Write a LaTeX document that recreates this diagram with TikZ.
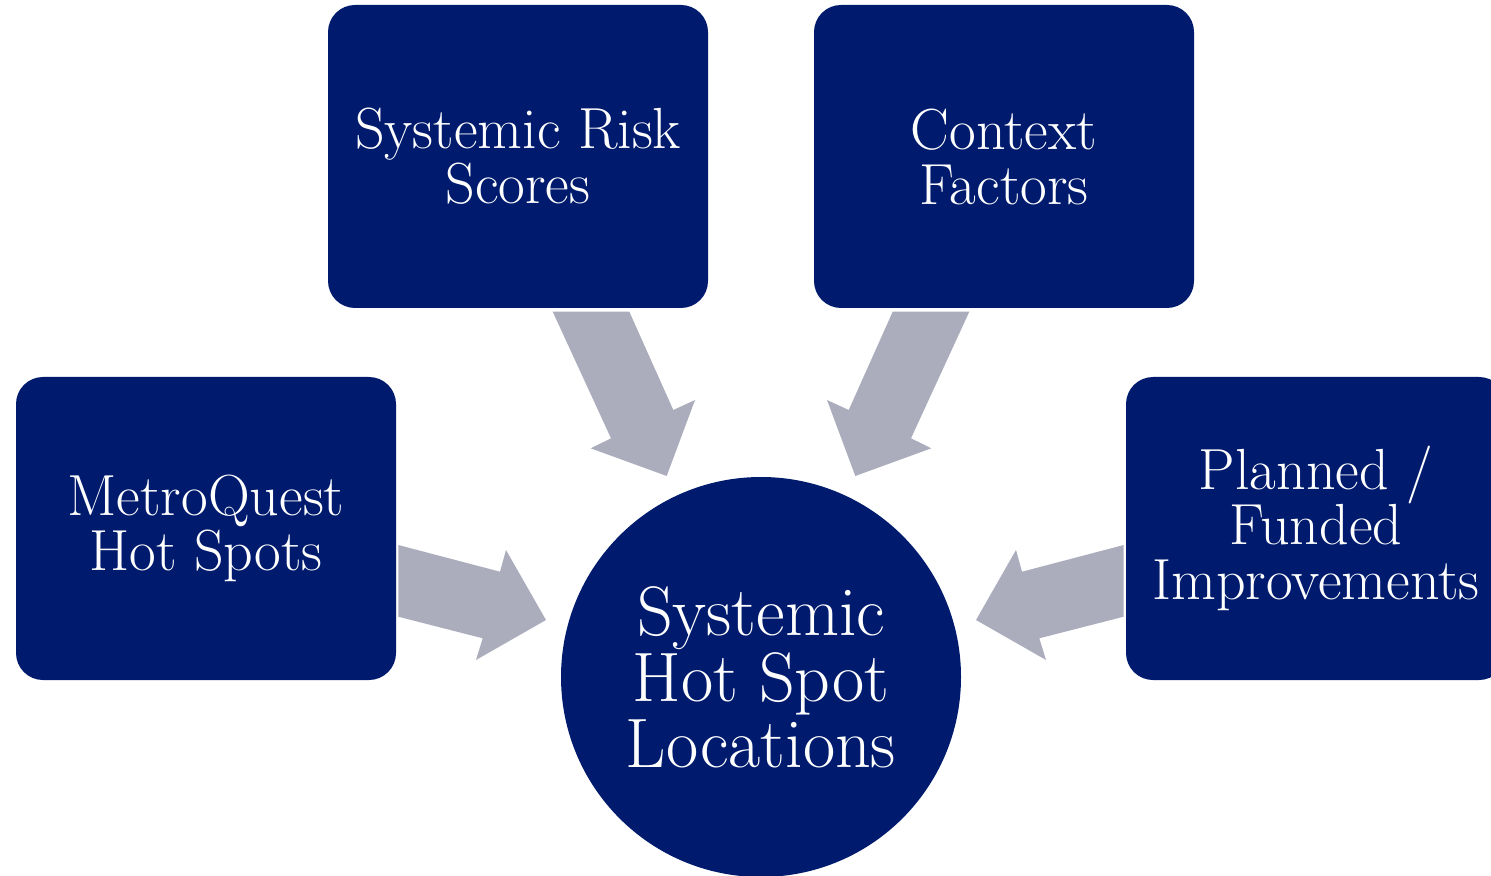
\documentclass[tikz,border=0pt]{standalone}
\usepackage{tikz}
\definecolor{navy}{RGB}{0,27,110}
\definecolor{feedgray}{RGB}{171,173,189}

\begin{document}
\begin{tikzpicture}[x=0.5pt,y=-0.5pt,
    source/.style={rectangle,rounded corners=13.5pt,fill=navy,text=white,
        minimum width=190pt,minimum height=151.5pt,inner sep=0pt,align=center,
        font=\fontsize{29}{27.5}\selectfont},
    target/.style={circle,fill=navy,text=white,minimum size=200pt,inner sep=0pt,
        align=center,font=\fontsize{35}{33}\selectfont},
    feed/.style={fill=feedgray}]
\useasboundingbox (0,0) rectangle (1491,876);
\clip (0,0) rectangle (1491,876);
            \node[source] (risk) at (518,156.5) {Systemic Risk\\Scores};
            \node[source] (context) at (1004,156.5) {Context\\Factors};
            \node[source] (metro) at (206,528.5) {MetroQuest\\Hot Spots};
            \node[source] (planned) at (1316,528.5) {Planned /\\Funded\\Improvements};
            \node[target] (hot) at (761,677) {Systemic\\Hot Spot\\Locations};
            % block arrows into the circle
            \fill[feed] (552.7,311.7) -- (629.3,311.7) -- (673.3,410) -- (695,400)
                -- (666.7,476) -- (590.7,448.3) -- (611,438.3) -- cycle;
            \fill[feed] (969.3,311.7) -- (892.7,311.7) -- (848.7,410) -- (827,400)
                -- (855.3,476) -- (931.3,448.3) -- (911,438.3) -- cycle;
            \fill[feed] (398.3,545) -- (500,571.7) -- (506,550) -- (546,620)
                -- (476,660) -- (482.7,638.3) -- (398.3,616.7) -- cycle;
            \fill[feed] (1123.7,545) -- (1022,571.7) -- (1016,550) -- (976,620)
                -- (1046,660) -- (1039.3,638.3) -- (1123.7,616.7) -- cycle;
\end{tikzpicture}
\end{document}
